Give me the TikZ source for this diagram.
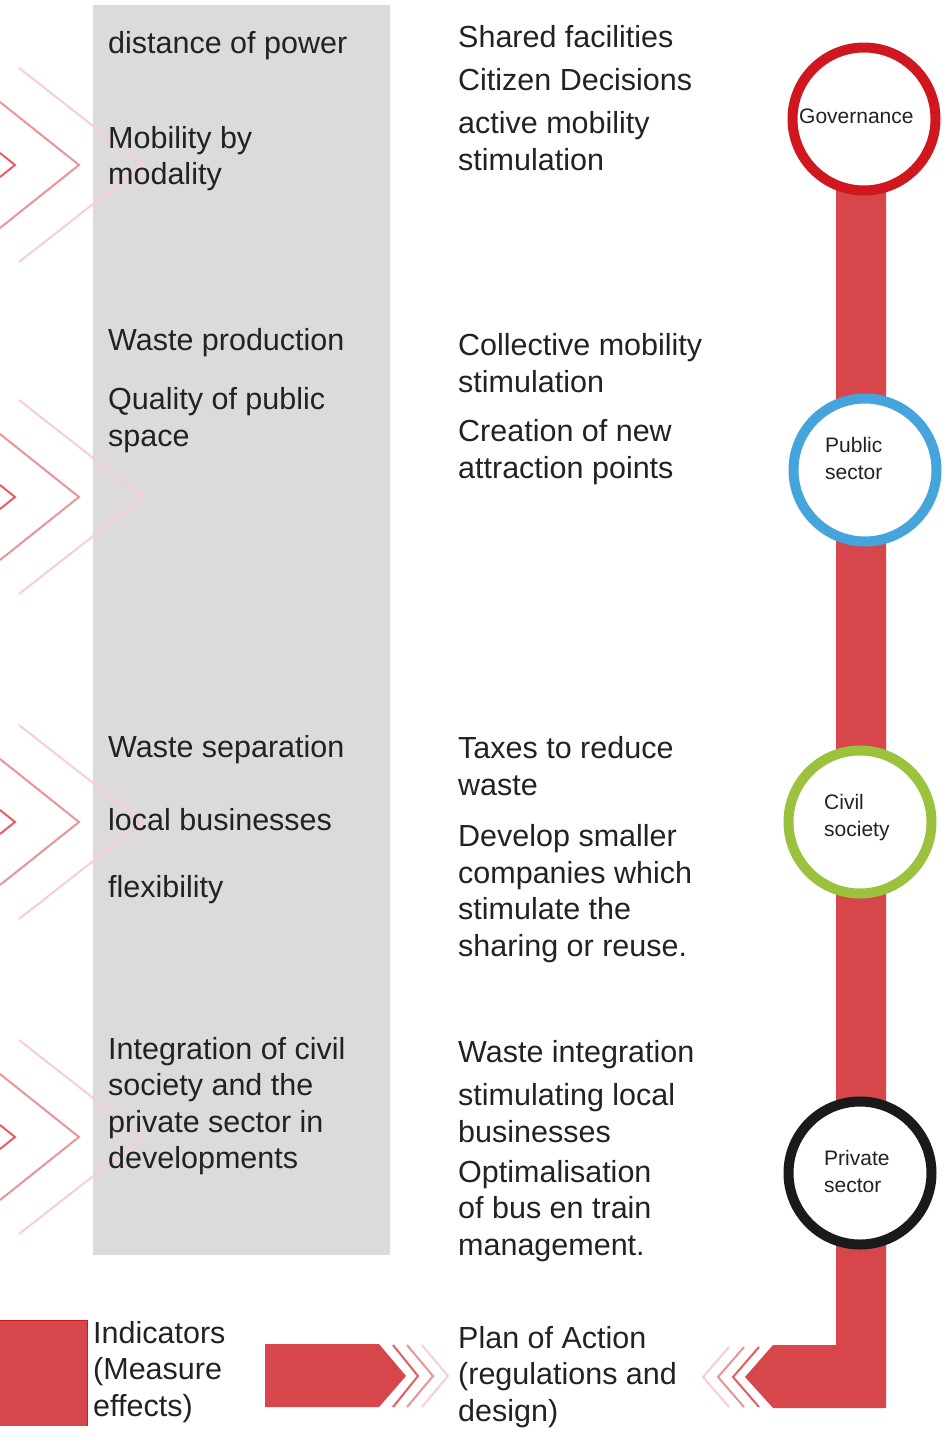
\documentclass[tikz,border=0pt]{standalone}
\usepackage{fontspec}
\setmainfont{Liberation Sans}
\usepackage{xcolor}
\usetikzlibrary{positioning,calc}

\definecolor{boxgray}{HTML}{DCDADD}
\definecolor{barred}{HTML}{D6464B}
\definecolor{govred}{HTML}{D0161E}
\definecolor{pubblue}{HTML}{46A4DC}
\definecolor{civgreen}{HTML}{9BC23C}
\definecolor{privblack}{HTML}{1A1A1A}
\definecolor{chevdark}{HTML}{E35D62}
\definecolor{chevmid}{HTML}{EB9498}
\definecolor{chevlight}{HTML}{F6CFD0}
\definecolor{textgray}{HTML}{222222}

\begin{document}
\begin{tikzpicture}[x=1pt, y=-1pt,
    txt/.style={anchor=base west, align=left, inner sep=0pt, text=textgray, font=\fontsize{30.5}{36.5}\selectfont},
    ringtxt/.style={anchor=base west, align=left, inner sep=0pt, text=textgray, font=\fontsize{21}{26.5}\selectfont},
    ring/.style={circle, draw, fill=white, line width=10pt, minimum size=143pt, inner sep=0pt},
    cdark/.style={draw=chevdark, line width=2pt},
    cmid/.style={draw=chevmid, line width=2pt},
    clight/.style={draw=chevlight, line width=2pt},
    block/.style={fill=barred},
]
\useasboundingbox (0,0) rectangle (945,1438);
\fill[boxgray] (93,5) rectangle (390,1255);

% chevrons on the left
\foreach \c in {165,497,822,1137} {
  \draw[clight] (19,\c-97) -- (143,\c) -- (19,\c+97);
  \draw[cmid] (0,\c-63) -- (79,\c) -- (0,\c+63);
  \draw[cdark] (0,\c-12) -- (15,\c) -- (0,\c+12);
}

% red line with arrow at the bottom
\coordinate (bartop) at (836,190);
\fill[block] (bartop) -- (886,190) -- (886,1408) -- (773,1408) -- (745,1377) -- (773,1345) -- (836,1345) -- cycle;
\draw[cdark] (759,1347) -- (733,1377) -- (759,1407);
\draw[cmid] (744,1347) -- (718,1377) -- (744,1407);
\draw[clight] (729,1347) -- (703,1377) -- (729,1407);

% arrow in the middle
\fill[block] (265,1344) -- (379,1344) -- (406,1376) -- (379,1407) -- (265,1407) -- cycle;
\draw[cdark] (393,1345) -- (418,1376) -- (393,1407);
\draw[cmid] (407,1345) -- (433,1376) -- (407,1407);
\draw[clight] (422,1345) -- (448,1376) -- (422,1407);

\fill[block] (-1,1320) rectangle (87,1426);
\draw[govred, line width=1pt] (-1,1320) -- (87,1320) -- (87,1426);

\node[ring, draw=govred] (gov) at (864,119) {};
\node[ring, draw=pubblue] (pub) at (865,470) {};
\node[ring, draw=civgreen] (civ) at (860,822) {};
\node[ring, draw=privblack] (priv) at (860,1173) {};
% base = last line
\node[ringtxt] (govlbl) at (799,123) {Governance};
\node[ringtxt] (publbl) at (825,479) {Public\\sector};
\node[ringtxt] (civlbl) at (824,836) {Civil\\society};
\node[ringtxt] (privlbl) at (824,1192) {Private\\sector};

% indicators
\node[txt] (ind1) at (108,53) {distance of power};
\node[txt] (ind2) at (108,184.5) {Mobility by\\modality};
\node[txt] (ind3) at (108,350) {Waste production};
\node[txt] (ind4) at (108,446) {Quality of public\\space};
\node[txt] (ind5) at (108,757) {Waste separation};
\node[txt] (ind6) at (108,830) {local businesses};
\node[txt] (ind7) at (108,897) {flexibility};
\node[txt] (ind8) at (108,1168.5) {Integration of civil\\society and the\\private sector in\\developments};

% actions
\node[txt] (act1) at (458,47) {Shared facilities};
\node[txt] (act2) at (458,90) {Citizen Decisions};
\node[txt] (act3) at (458,170) {active mobility\\stimulation};
\node[txt] (act4) at (458,392) {Collective mobility\\stimulation};
\node[txt] (act5) at (458,478) {Creation of new\\attraction points};
\node[txt] (act6) at (458,795) {Taxes to reduce\\waste};
\node[txt] (act7) at (458,956) {Develop smaller\\companies which\\stimulate the\\sharing or reuse.};
\node[txt] (act8) at (458,1062) {Waste integration};
\node[txt] (act9) at (458,1142) {stimulating local\\businesses};
\node[txt] (act10) at (458,1255) {Optimalisation\\of bus en train\\management.};

\node[txt] (indlbl) at (93,1416) {Indicators\\(Measure\\effects)};
\node[txt] (planlbl) at (458,1421) {Plan of Action\\(regulations and\\design)};
\end{tikzpicture}
\end{document}
